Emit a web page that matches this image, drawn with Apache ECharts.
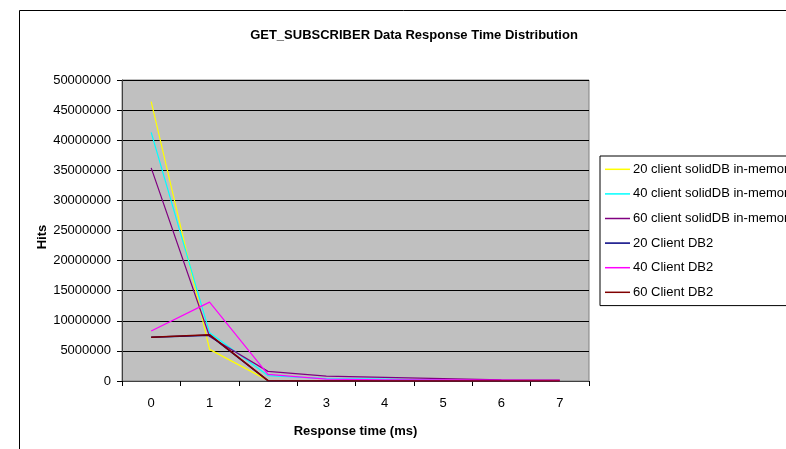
<!DOCTYPE html>
<html>
<head>
<meta charset="utf-8">
<script src="https://cdn.jsdelivr.net/npm/echarts@6/dist/echarts.min.js"></script>
<style>
html,body{margin:0;padding:0;background:#fff;}
#chart{width:786px;height:449px;}
</style>
</head>
<body>
<div id="chart"></div>
<script>
const categories = ['0','1','2','3','4','5','6','7'];
const seriesNames = [
  '20 client solidDB in-memory',
  '40 client solidDB in-memory',
  '60 client solidDB in-memory',
  '20 Client DB2',
  '40 Client DB2',
  '60 Client DB2'
];
const solid20 = [46400000, 5250000, 100000, 20000, 10000, 5000, 2000, 1000];
const solid40 = [41300000, 8000000, 900000, 400000, 300000, 150000, 50000, 20000];
const solid60 = [35400000, 7400000, 1600000, 800000, 600000, 400000, 200000, 150000];
const db2_20 = [7250000, 7600000, 50000, 10000, 5000, 2000, 1000, 500];
const db2_40 = [8300000, 13100000, 1100000, 300000, 200000, 200000, 150000, 100000];
const db2_60 = [7250000, 7700000, 50000, 10000, 5000, 2000, 1000, 500];
const yTicks = {min: 0, max: 50000000, interval: 5000000};
const yAxisTitle = 'Hits';
const colors = ['#FFFF00', '#00FFFF', '#800080', '#000080', '#FF00FF', '#800000'];
const seriesData = [solid20, solid40, solid60, db2_20, db2_40, db2_60];

const FONT = '"Liberation Sans", Arial, sans-serif';
const chart = echarts.init(document.getElementById('chart'), null, {renderer: 'canvas'});
chart.setOption({
  animation: false,
  backgroundColor: '#ffffff',
  color: colors,
  title: {
    text: 'GET_SUBSCRIBER Data Response Time Distribution',
    left: 409, top: 24, textAlign: 'center',
    textStyle: {fontFamily: FONT, fontSize: 13, fontWeight: 'bold', color: '#000'}
  },
  legend: {
    orient: 'vertical',
    left: 600, top: 156,
    width: 220,
    padding: [6, 40, 6, 5],
    icon: 'rect',
    itemWidth: 25, itemHeight: 1.5, itemGap: 10,
    borderColor: '#000', borderWidth: 1,
    backgroundColor: '#fff',
    textStyle: {fontFamily: FONT, fontSize: 13, color: '#000', padding: [0,0,0,-2], lineHeight: 14.6},
    data: seriesNames
  },
  graphic: [{
    type: 'rect', z: -1,
    shape: {x: 19.5, y: 10.5, width: 900, height: 600},
    style: {fill: null, stroke: '#000', lineWidth: 1}
  }, {
    type: 'text',
    x: 42, y: 237, rotation: Math.PI / 2,
    style: {text: yAxisTitle, fontFamily: FONT, fontSize: 13, fontWeight: 'bold', fill: '#000',
            align: 'center', verticalAlign: 'middle'}
  }],
  grid: {
    left: 122, top: 80, width: 467, height: 301,
    show: true, backgroundColor: '#C0C0C0', borderColor: '#808080', borderWidth: 1
  },
  xAxis: {
    type: 'category',
    data: categories,
    boundaryGap: true,
    name: 'Response time (ms)',
    nameLocation: 'middle', nameGap: 44,
    nameTextStyle: {fontFamily: FONT, fontSize: 13, fontWeight: 'bold', color: '#000'},
    axisLine: {lineStyle: {color: '#404040', width: 1}},
    axisTick: {show: true, length: 5, inside: false, alignWithLabel: false, lineStyle: {color: '#000'}},
    axisLabel: {fontFamily: FONT, fontSize: 13, color: '#000', margin: 16},
    splitLine: {show: false}
  },
  yAxis: {
    type: 'value',
    min: yTicks.min, max: yTicks.max, interval: yTicks.interval,
    axisLine: {show: true, lineStyle: {color: '#404040', width: 1}},
    axisTick: {show: true, length: 5, inside: false, lineStyle: {color: '#000'}},
    axisLabel: {fontFamily: FONT, fontSize: 13, color: '#000', margin: 11, formatter: v => String(v)},
    splitLine: {show: true, lineStyle: {color: '#000', width: 1}}
  },
  series: seriesNames.map((n, i) => ({
    name: n,
    type: 'line',
    data: seriesData[i],
    symbol: 'none',
    showSymbol: false,
    lineStyle: {width: i === 5 || i === 3 ? 1.5 : 1.2, color: colors[i]},
    itemStyle: {color: colors[i]},
    z: 2 + i
  }))
});
</script>
</body>
</html>
